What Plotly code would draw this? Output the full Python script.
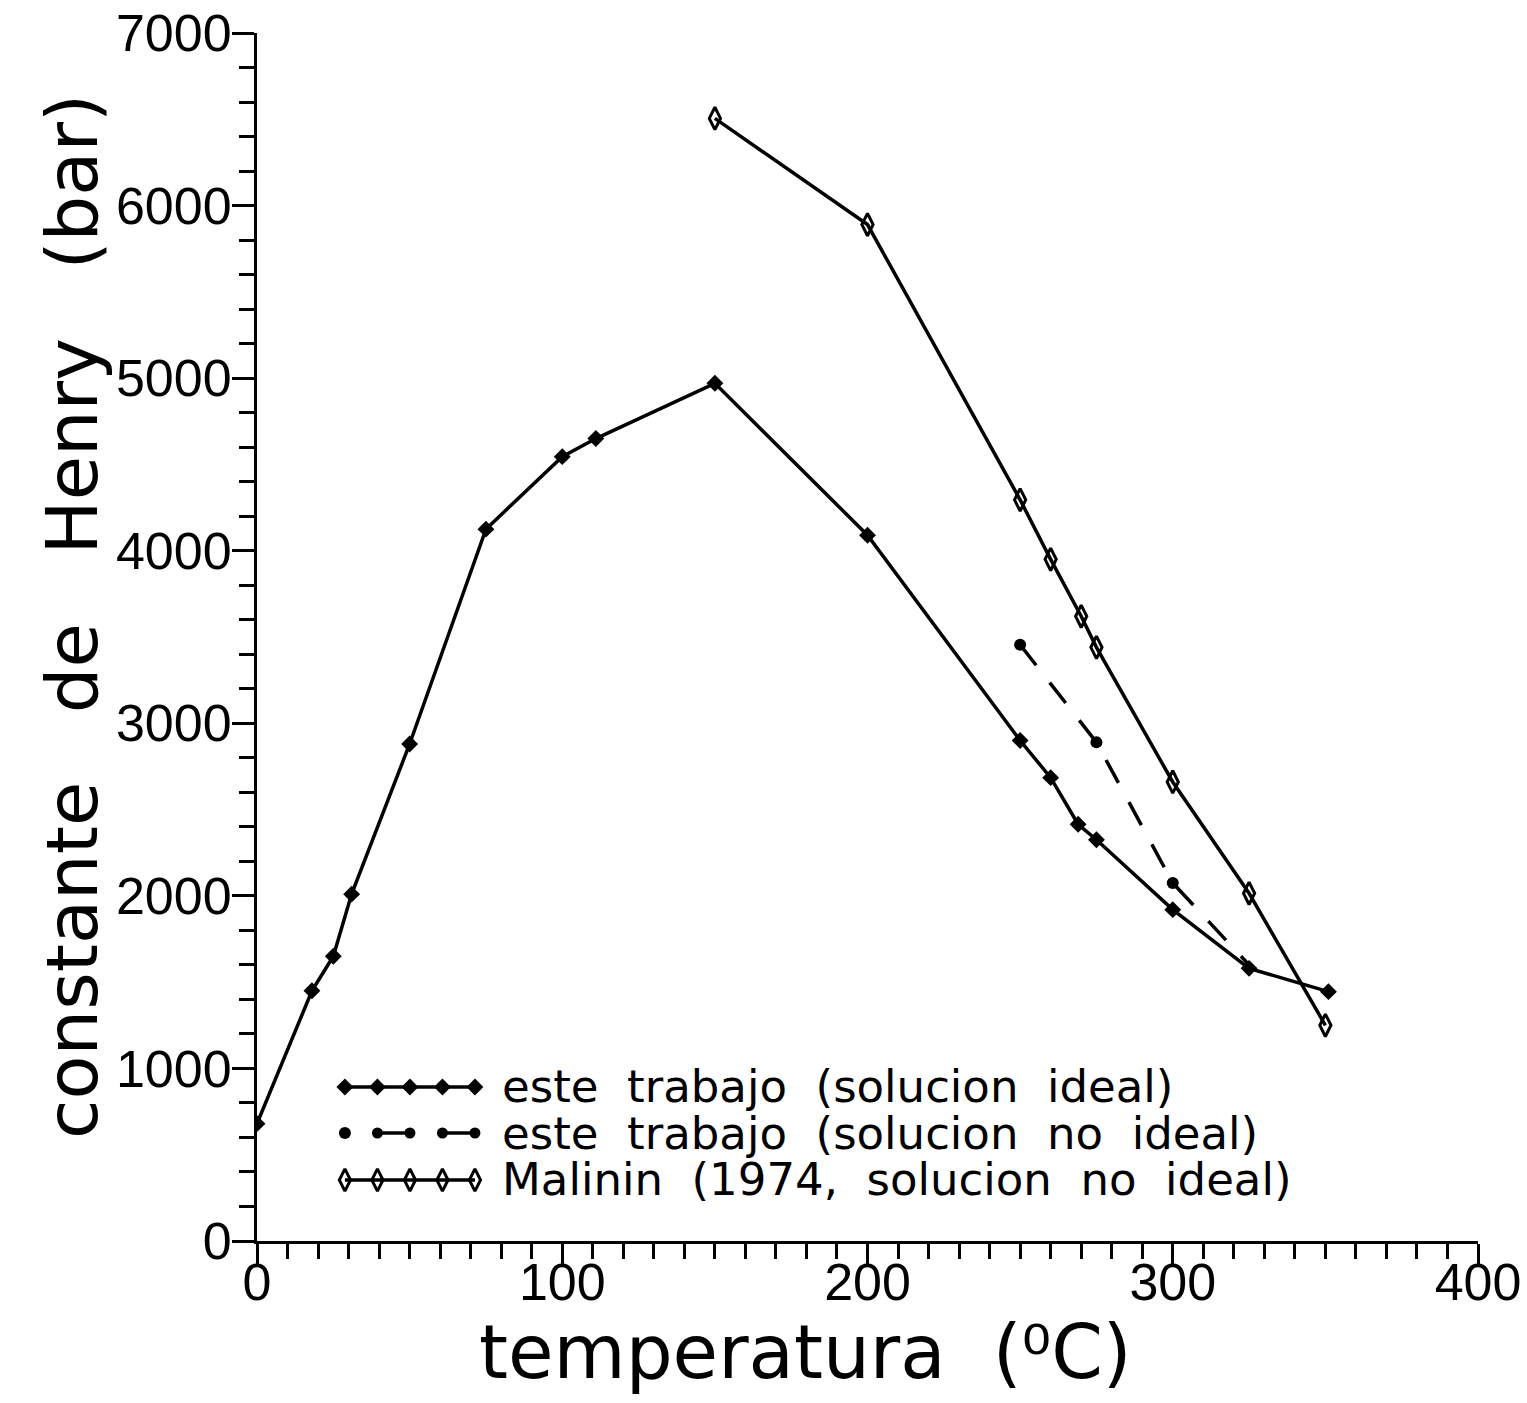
import plotly.graph_objects as go

# ---- data ----
t_ideal = [0, 18, 25, 31, 50, 75, 100, 111, 150, 200, 250, 260, 269, 275, 300, 325, 351]
k_ideal = [680, 1450, 1650, 2010, 2880, 4125, 4545, 4650, 4970, 4090, 2900, 2685, 2415, 2325, 1920, 1580, 1445]

t_noideal = [250, 275, 300, 325]
k_noideal = [3455, 2890, 2075, 1600]
t_noideal_mk = [250, 275, 300]
k_noideal_mk = [3455, 2890, 2075]

t_malinin = [150, 200, 250, 260, 270, 275, 300, 325, 350]
k_malinin = [6505, 5890, 4295, 3950, 3620, 3440, 2660, 2015, 1250]

legend_labels = ["este  trabajo  (solucion  ideal)",
                 "este  trabajo  (solucion  no  ideal)",
                 "Malinin  (1974,  solucion  no  ideal)"]
x_title = "temperatura  (⁰C)"
y_title = "constante   de   Henry   (bar)"

FONT = "Liberation Sans"
TFONT = "DejaVu Sans"
LW = 3.5

fig = go.Figure()

fig.add_trace(go.Scatter(x=t_ideal, y=k_ideal, mode="lines+markers",
                         line=dict(color="black", width=LW),
                         marker=dict(symbol="diamond", size=13, color="black"),
                         showlegend=False))
fig.add_trace(go.Scatter(x=t_noideal, y=k_noideal, mode="lines",
                         line=dict(color="black", width=LW, dash="26px,22px"),
                         showlegend=False))
fig.add_trace(go.Scatter(x=t_noideal_mk, y=k_noideal_mk, mode="markers",
                         marker=dict(symbol="circle", size=12, color="black"),
                         showlegend=False))
fig.add_trace(go.Scatter(x=t_malinin, y=k_malinin, mode="lines+markers",
                         line=dict(color="black", width=LW),
                         marker=dict(symbol="diamond-tall-open", size=16, color="black",
                                     line=dict(width=3, color="black")),
                         showlegend=False))

# ---- custom legend on an overlay paper-like axis ----
lx0, lx1 = 0.072, 0.1785
ly = [0.1275, 0.0894, 0.0505]
xs = [lx0 + i * (lx1 - lx0) / 4 for i in range(5)]
fig.add_trace(go.Scatter(x=xs, y=[ly[0]] * 5, xaxis="x2", yaxis="y2", mode="lines+markers",
                         line=dict(color="black", width=LW),
                         marker=dict(symbol="diamond", size=13, color="black"),
                         showlegend=False, hoverinfo="skip"))
fig.add_trace(go.Scatter(x=[xs[0]], y=[ly[1]], xaxis="x2", yaxis="y2", mode="markers",
                         marker=dict(symbol="circle", size=12, color="black"),
                         showlegend=False, hoverinfo="skip"))
for a, b in [(xs[1], xs[2]), (xs[3], xs[4])]:
    fig.add_trace(go.Scatter(x=[a, b], y=[ly[1], ly[1]], xaxis="x2", yaxis="y2",
                             mode="lines+markers",
                             line=dict(color="black", width=LW),
                             marker=dict(symbol="circle", size=11, color="black"),
                             showlegend=False, hoverinfo="skip"))
fig.add_trace(go.Scatter(x=xs, y=[ly[2]] * 5, xaxis="x2", yaxis="y2", mode="lines+markers",
                         line=dict(color="black", width=LW),
                         marker=dict(symbol="diamond-tall-open", size=16, color="black",
                                     line=dict(width=3, color="black")),
                         showlegend=False, hoverinfo="skip"))

annotations = []
for yy, txt in zip(ly, legend_labels):
    annotations.append(dict(x=0.199, y=yy, xref="paper", yref="paper", text=txt,
                            showarrow=False, xanchor="left", yanchor="middle",
                            font=dict(family=TFONT, size=45, color="black")))
annotations.append(dict(x=0.449, y=-0.092, xref="paper", yref="paper", text=x_title,
                        showarrow=False, xanchor="center", yanchor="middle",
                        font=dict(family=TFONT, size=74, color="black")))
annotations.append(dict(x=-0.151, y=0.517, xref="paper", yref="paper", text=y_title,
                        showarrow=False, xanchor="center", yanchor="middle", textangle=-90,
                        font=dict(family=TFONT, size=72, color="black")))

fig.update_layout(
    width=1527, height=1403,
    margin=dict(l=257, r=49, t=33, b=162),
    paper_bgcolor="white", plot_bgcolor="white",
    font=dict(family=FONT, color="black"),
    annotations=annotations,
    xaxis=dict(range=[0, 400], tickvals=[0, 100, 200, 300, 400], automargin=False,
               ticks="outside", ticklen=22, tickwidth=3, tickcolor="black",
               showline=True, linewidth=3, linecolor="black",
               showgrid=False, zeroline=False, ticklabelstandoff=-28,
               minor=dict(dtick=10, ticks="outside", ticklen=15, tickwidth=3, tickcolor="black"),
               tickfont=dict(size=52, family=FONT)),
    yaxis=dict(range=[0, 7000], tickvals=list(range(0, 7001, 1000)), automargin=False,
               ticks="outside", ticklen=22, tickwidth=3, tickcolor="black",
               showline=True, linewidth=3, linecolor="black",
               showgrid=False, zeroline=False, ticklabelstandoff=-10,
               minor=dict(dtick=200, ticks="outside", ticklen=15, tickwidth=3, tickcolor="black"),
               tickfont=dict(size=52, family=FONT)),
    xaxis2=dict(overlaying="x", range=[0, 1], visible=False, fixedrange=True),
    yaxis2=dict(overlaying="y", range=[0, 1], visible=False, fixedrange=True),
)

fig.write_html("out.html")
